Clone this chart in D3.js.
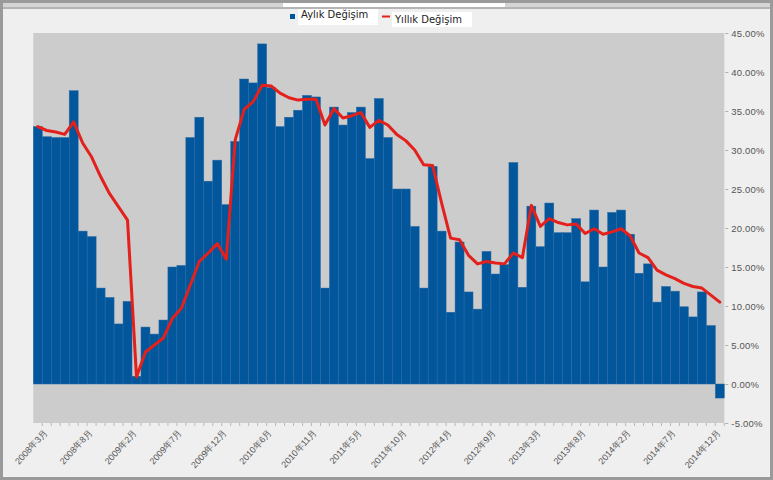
<!DOCTYPE html>
<html><head><meta charset="utf-8">
<script src="https://cdn.jsdelivr.net/npm/d3@7"></script>
<style>body{margin:0;background:#efefef;}svg{display:block;font-family:"DejaVu Sans","Noto Sans CJK SC",sans-serif;}</style>
</head><body>
<svg id="c" width="773" height="480"></svg>
<script>
const categories = [
"2008年2月","2008年3月","2008年4月","2008年5月","2008年6月","2008年7月","2008年8月","2008年9月","2008年10月","2008年11月","2008年12月",
"2009年2月","2009年3月","2009年4月","2009年5月","2009年6月","2009年7月","2009年8月","2009年9月","2009年10月","2009年11月","2009年12月",
"2010年2月","2010年3月","2010年4月","2010年5月","2010年6月","2010年7月","2010年8月","2010年9月","2010年10月","2010年11月","2010年12月",
"2011年2月","2011年3月","2011年4月","2011年5月","2011年6月","2011年7月","2011年8月","2011年9月","2011年10月","2011年11月","2011年12月",
"2012年2月","2012年3月","2012年4月","2012年5月","2012年6月","2012年7月","2012年8月","2012年9月","2012年10月","2012年11月","2012年12月",
"2013年2月","2013年3月","2013年4月","2013年5月","2013年6月","2013年7月","2013年8月","2013年9月","2013年10月","2013年11月","2013年12月",
"2014年2月","2014年3月","2014年4月","2014年5月","2014年6月","2014年7月","2014年8月","2014年9月","2014年10月","2014年11月","2014年12月"];
const aylikDegisim = [
33.0,31.7,31.6,31.6,37.6,19.6,18.9,12.3,11.1,7.7,10.6,
1.0,7.3,6.4,8.2,15.0,15.2,31.6,34.2,26.0,28.7,23.0,
31.1,39.1,38.6,43.6,38.0,33.0,34.2,35.1,37.0,36.8,12.3,
35.5,33.2,34.8,35.5,28.9,36.6,31.6,25.0,25.0,20.2,12.3,
27.9,19.6,9.2,18.2,11.8,9.6,17.0,14.1,15.3,28.4,12.4,
22.8,17.6,23.2,19.4,19.4,21.2,13.1,22.3,15.0,22.0,22.3,
19.2,14.2,15.4,10.5,12.5,11.9,9.9,8.6,11.8,7.5,-1.8];
const yillikDegisim = [
33.0,32.5,32.3,32.0,33.6,30.9,29.1,26.6,24.4,22.7,21.0,
0.9,4.1,5.0,5.9,8.4,9.7,12.7,15.7,16.8,18.0,16.0,
31.3,35.2,36.2,38.3,38.2,37.3,36.7,36.4,36.5,36.5,33.2,
35.3,34.1,34.4,34.8,32.9,33.8,33.2,32.0,31.2,30.0,28.1,
28.0,23.2,18.7,18.5,16.5,15.4,15.7,15.5,15.4,16.8,16.2,
22.9,20.2,21.2,20.7,20.4,20.5,19.3,19.9,19.2,19.5,19.9,
19.0,16.8,16.2,14.6,14.0,13.5,12.9,12.5,12.3,11.4,10.5];
const xTickLabels = ["2008年3月","2008年8月","2009年2月","2009年7月","2009年12月","2010年6月","2010年11月","2011年5月","2011年10月","2012年4月","2012年9月","2013年3月","2013年8月","2014年2月","2014年7月","2014年12月"];
const yTicks = [-5,0,5,10,15,20,25,30,35,40,45];
const seriesNames = ["Aylık Değişim","Yıllık Değişim"];

const svg = d3.select("#c");
const W = 773, H = 480;
const L = 33.3, R = 724.3, T = 33, B = 423;

// frame
svg.append("rect").attr("x",0).attr("y",0).attr("width",W).attr("height",H).attr("fill","#efefef");
svg.append("rect").attr("x",0).attr("y",0).attr("width",W).attr("height",7).attr("fill","#d4d4d4");
svg.append("rect").attr("x",283).attr("y",0).attr("width",222).attr("height",7).attr("fill","#ffffff");
svg.append("rect").attr("x",0).attr("y",7).attr("width",W).attr("height",2).attr("fill","#b4b4b4");
svg.append("rect").attr("x",1.5).attr("y",1.5).attr("width",W-3).attr("height",H-3).attr("fill","none").attr("stroke","#9a9a9a").attr("stroke-width",3);

const x = d3.scaleBand().domain(categories).range([L,R]).padding(0);
const y = d3.scaleLinear().domain([-5,45]).range([B,T]);

svg.append("rect").attr("x",L).attr("y",T).attr("width",R-L).attr("height",B-T).attr("fill","#cccccc");

// bars
svg.append("g").selectAll("rect").data(aylikDegisim).join("rect")
  .attr("x",(d,i)=>x(categories[i]))
  .attr("width",x.bandwidth())
  .attr("y",d=>y(Math.max(0,d)))
  .attr("height",d=>Math.abs(y(d)-y(0)))
  .attr("fill","#02569b")
  .attr("stroke","#2c6ba6").attr("stroke-width",0.5);

// line
const line = d3.line().x((d,i)=>x(categories[i])+x.bandwidth()/2).y(d=>y(d));
svg.append("path").datum(yillikDegisim).attr("d",line)
  .attr("fill","none").attr("stroke","#e3201b").attr("stroke-width",3)
  .attr("stroke-linejoin","round").attr("stroke-linecap","round");

// y axis right
const yAxis = d3.axisRight(y).tickValues(yTicks).tickSize(3).tickPadding(3)
  .tickFormat(d=>d.toFixed(2)+"%");
const gy = svg.append("g").attr("transform",`translate(${R+1},0)`).call(yAxis);
gy.select(".domain").remove();
gy.selectAll("line").attr("stroke","#b0b0b0");
gy.selectAll("text").attr("fill","#555").attr("font-size","9.5px").attr("letter-spacing","0.2px");

// x axis
const xAxis = d3.axisBottom(x).tickSize(3).tickFormat(d=>xTickLabels.includes(d)?d:"");
const gx = svg.append("g").attr("transform",`translate(0,${B})`).call(xAxis);
gx.select(".domain").remove();
gx.selectAll("line").attr("stroke","#b8b8b8").attr("transform",`translate(${x.bandwidth()/2},0)`);
gx.selectAll("text").attr("fill","#555").attr("font-size","9px")
  .attr("text-anchor","end").attr("dy",0).attr("y",0)
  .attr("transform","translate(1,10) rotate(-48)");

// legend
const lg = svg.append("g");
lg.append("rect").attr("x",298).attr("y",9).attr("width",80).attr("height",16).attr("fill","#fff");
lg.append("rect").attr("x",392).attr("y",12).attr("width",80).attr("height",15).attr("fill","#fff");
lg.append("rect").attr("x",290).attr("y",14).attr("width",5).attr("height",5).attr("fill","#02569b");
lg.append("line").attr("x1",382).attr("x2",390).attr("y1",16.5).attr("y2",16.5).attr("stroke","#e3201b").attr("stroke-width",2);
lg.append("text").attr("x",301).attr("y",18).attr("font-size","10px").attr("fill","#222").text(seriesNames[0]);
lg.append("text").attr("x",395).attr("y",23).attr("font-size","10px").attr("fill","#222").text(seriesNames[1]);
</script>
</body></html>
